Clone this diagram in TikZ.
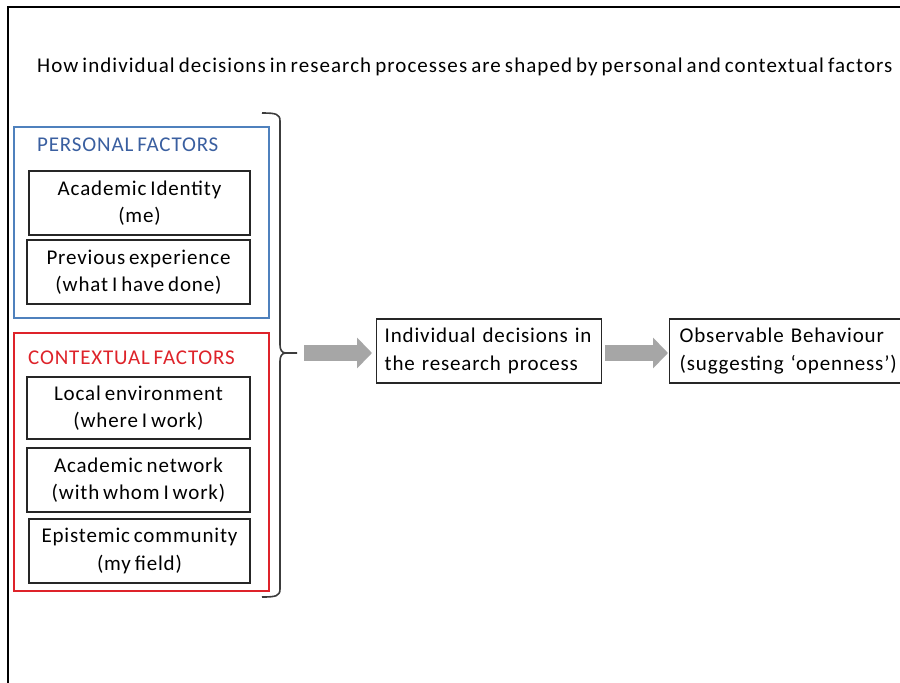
\documentclass[tikz,border=0pt]{standalone}
\usepackage{fontspec}
\setmainfont{Carlito}[LetterSpace=4,WordSpace=0.7]
\newfontfamily\titlefont{Carlito}[LetterSpace=5,WordSpace=0.7]
\usetikzlibrary{arrows.meta}
\definecolor{pblue}{RGB}{79,129,189}
\definecolor{ptext}{RGB}{58,95,160}
\definecolor{cred}{RGB}{222,35,42}
\definecolor{agray}{RGB}{166,166,166}
\definecolor{bgray}{RGB}{60,60,60}
\begin{document}
\begin{tikzpicture}[x=1pt,y=-1pt,
  txt/.style={font=\fontsize{21}{27.5}\selectfont},
  box/.style={txt, draw=black!85, line width=1.4pt, inner sep=0pt, align=center},
  lbox/.style={txt, draw=black!85, line width=1.4pt, inner ysep=0pt, align=left, minimum height=64pt},
  frame/.style={line width=1.3pt, inner sep=0pt, minimum width=255pt},
  head/.style={txt, anchor=base west, inner sep=0pt},
  blockarrow/.style={agray, line width=16pt, -{Triangle[length=15pt,width=30pt]}},
  bracestyle/.style={bgray, line width=1.6pt, line join=round}
]
\clip (0,0) rectangle (900,683);
\fill[white] (0,0) rectangle (900,683);
% outer frame (partly visible)
\draw[black, line width=2pt] (8,690) -- (8,7) -- (910,7);
% title
\node[head, font=\titlefont\fontsize{21}{27.5}\selectfont] (title) at (37,72) {How individual decisions in research processes are shaped by personal and contextual factors};
% personal factors
\node[frame, draw=pblue, minimum height=191pt] (pers) at (141.5,222.5) {};
\node[head, text=ptext] (phead) at (37,151) {PERSONAL FACTORS};
\node[box, minimum width=221pt, minimum height=64pt] (acad) at (139.5,203) {Academic Identity\\(me)};
\node[box, minimum width=223pt, minimum height=64pt] (prev) at (138.5,272) {Previous experience\\(what I have done)};
% contextual factors
\node[frame, draw=cred, minimum height=258pt] (ctx) at (141.5,462) {};
\node[head, text=cred] (chead) at (28,364) {CONTEXTUAL FACTORS};
\node[box, minimum width=223pt, minimum height=62pt] (local) at (138.5,408) {Local environment\\(where I work)};
\node[box, minimum width=223pt, minimum height=64pt] (net) at (138.5,480) {Academic network\\(with whom I work)};
\node[box, minimum width=221pt, minimum height=64pt] (epi) at (139.5,551) {Epistemic community\\(my field)};
% brace
\coordinate (tip) at (297,353);
\draw[bracestyle] (262,113) .. controls (276,113) and (280,114) .. (280,121)
  -- (280,345) .. controls (280,350) and (282,353) .. (286,353) -- (tip)
  (286,353) .. controls (282,353) and (280,356) .. (280,361)
  -- (280,589) .. controls (280,596) and (276,597) .. (262,597);
% process boxes
\node[lbox, text width=209pt, inner xsep=8pt, anchor=west] (dec) at (376,351) {Individual decisions in\\the research process};
\node[lbox, text width=230pt, inner xsep=10pt, anchor=west] (obs) at (669,351) {Observable Behaviour\\(suggesting ‘openness’)};
% arrows
\draw[blockarrow, shorten <=7pt, shorten >=4pt] (tip) -- (tip -| dec.west);
\draw[blockarrow, shorten <=3pt, shorten >=1pt] (dec.east |- tip) -- (tip -| obs.west);
\end{tikzpicture}
\end{document}
